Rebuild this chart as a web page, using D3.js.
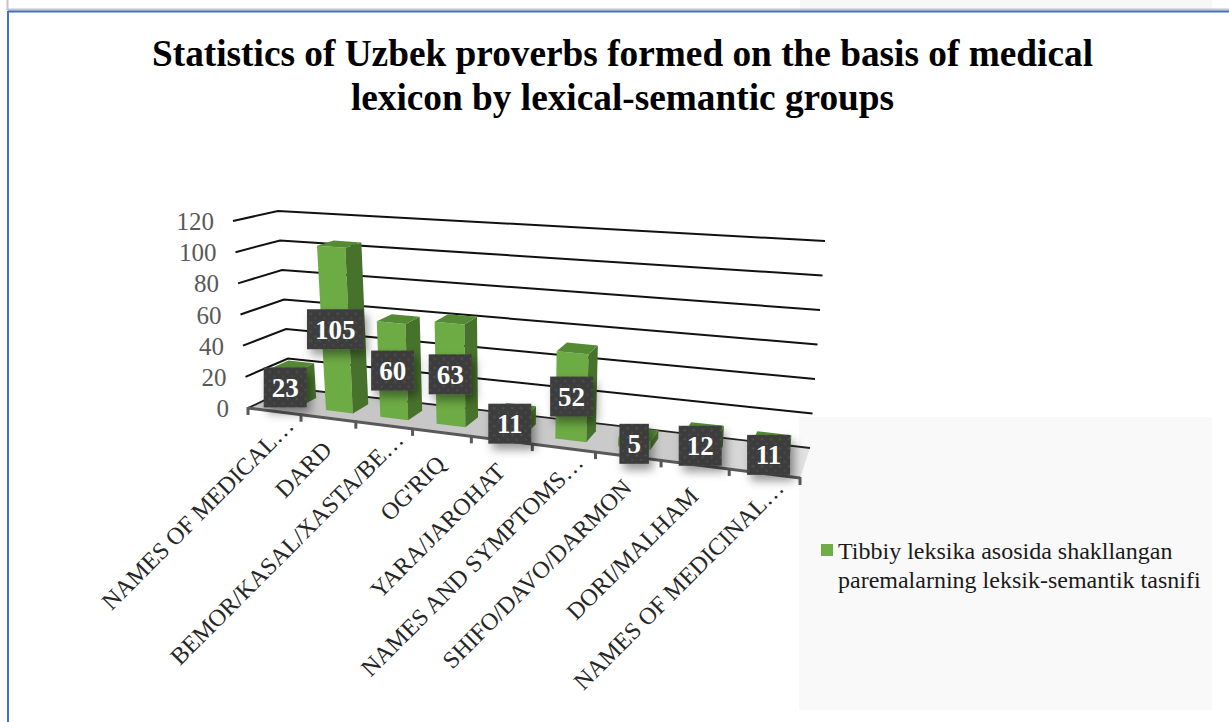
<!DOCTYPE html>
<html><head><meta charset="utf-8">
<script src="https://cdn.jsdelivr.net/npm/d3@7/dist/d3.min.js"></script>
<style>html,body{margin:0;padding:0;background:#fff}svg{display:block;font-family:"Liberation Serif","Times New Roman",serif}</style>
</head><body><div id="chart"></div>
<script>
const categories = ["NAMES OF MEDICAL…","DARD","BEMOR/KASAL/XASTA/BE…","OG'RIQ","YARA/JAROHAT","NAMES AND SYMPTOMS…","SHIFO/DAVO/DARMON","DORI/MALHAM","NAMES OF MEDICINAL…"];
const values = [23,105,60,63,11,52,5,12,11];
const valueTicks = [0,20,40,60,80,100,120];
const titleLines = ["Statistics of Uzbek proverbs formed on the basis of medical","lexicon by lexical-semantic groups"];
const legendLines = ["Tibbiy leksika asosida shakllangan","paremalarning leksik-semantik tasnifi"];

const W=1229,H=722;
const svg=d3.select("#chart").append("svg").attr("width",W).attr("height",H);
const defs=svg.append("defs");
const pat=defs.append("pattern").attr("id","dots").attr("width",9).attr("height",9).attr("patternUnits","userSpaceOnUse");
pat.append("rect").attr("width",9).attr("height",9).attr("fill","#3e3e3e");
pat.append("circle").attr("cx",2.5).attr("cy",2.5).attr("r",1).attr("fill","#565656");
pat.append("circle").attr("cx",7).attr("cy",7).attr("r",1).attr("fill","#4e4e4e");
const sh=defs.append("filter").attr("id","shadow").attr("x","-40%").attr("y","-40%").attr("width","190%").attr("height","190%");
sh.append("feDropShadow").attr("dx",4).attr("dy",6).attr("stdDeviation",5).attr("flood-color","#000").attr("flood-opacity",.4);
const fg=defs.append("linearGradient").attr("id","floor").attr("x1",0).attr("x2",1).attr("y1",0).attr("y2",0);
fg.append("stop").attr("offset",0).attr("stop-color","#c4c4c4");
fg.append("stop").attr("offset",.75).attr("stop-color","#cbcbcb");
fg.append("stop").attr("offset",1).attr("stop-color","#e2e2e2");

// page chrome
svg.append("rect").attr("x",800).attr("y",0).attr("width",412).attr("height",9).attr("fill","#f7f7f7");
svg.append("line").attr("x1",7).attr("x2",W).attr("y1",9.5).attr("y2",9.5).attr("stroke","#c4c4c4").attr("stroke-width",2);
svg.append("line").attr("x1",7.5).attr("x2",7.5).attr("y1",0).attr("y2",10).attr("stroke","#c4c4c4").attr("stroke-width",2);
svg.append("line").attr("x1",8).attr("x2",W).attr("y1",11.5).attr("y2",11.5).attr("stroke","#3f70c8").attr("stroke-width",2);
svg.append("line").attr("x1",8).attr("x2",8).attr("y1",11).attr("y2",H).attr("stroke","#3f70c8").attr("stroke-width",2);
svg.append("rect").attr("x",799).attr("y",417).attr("width",413).attr("height",293).attr("fill","#f9f9f9");

// title
svg.append("g").selectAll("text").data(titleLines).join("text")
 .attr("x",622.5).attr("y",(d,i)=>66+i*44).attr("text-anchor","middle")
 .attr("font-size",37.3).attr("font-weight","bold").attr("fill","#000").text(d=>d);

// 3D box projection
const FBL=[248,408],FBR=[800,478],BBL=[290,388],BBR=[810,448],FTL=[233,221],FTR=[819,259],BTL=[278,211],BTR=[825,241];
const lerp=(a,b,t)=>[a[0]+(b[0]-a[0])*t,a[1]+(b[1]-a[1])*t];
const k=1.177, persp=u=>u/(u+k*(1-u));
const xU=d3.scaleBand().domain(categories).range([0,1]).paddingInner(.5).paddingOuter(.25);
const yW=d3.scaleLinear().domain([0,120]).range([0,1]);
const depth=d3.scaleLinear().domain([0,1]).range([.3,.72]);
function P(u,v,w){
  const t=persp(u),fb=lerp(FBL,FBR,t),bb=lerp(BBL,BBR,t),ft=lerp(FTL,FTR,t),bt=lerp(BTL,BTR,t);
  return lerp(lerp(fb,bb,v),lerp(ft,bt,v),w);
}
const poly=d3.line();

// gridlines
const grid=svg.append("g");
grid.selectAll("path").data(valueTicks.filter(d=>d>0)).join("path")
 .attr("d",d=>poly([P(0,0,yW(d)),P(0,1,yW(d)),P(1,1,yW(d))]))
 .attr("fill","none").attr("stroke","#111").attr("stroke-width",2);

// floor
svg.append("path").attr("d",poly([P(0,0,0),P(0,1,0),P(1,1,0),P(1,0,0)])+"Z").attr("fill","url(#floor)");
svg.append("path").attr("d",poly([P(0,0,0),P(0,1,0),P(1,1,0)])).attr("fill","none").attr("stroke","#222").attr("stroke-width",1.8);

// value axis labels
svg.append("g").selectAll("text").data(valueTicks).join("text")
 .attr("x",d=>P(0,0,yW(d))[0]-19).attr("y",d=>P(0,0,yW(d))[1]+9)
 .attr("text-anchor","end").attr("font-size",25).attr("fill","#595959").text(d=>d);

// category axis
const axisG=svg.append("g");
axisG.append("path").attr("d",poly([P(0,0,0),P(1,0,0)])).attr("fill","none").attr("stroke","#595959").attr("stroke-width",3);
axisG.selectAll("line").data(d3.range(categories.length+1)).join("line")
 .attr("x1",i=>P(i/categories.length,0,0)[0]).attr("x2",i=>P(i/categories.length,0,0)[0])
 .attr("y1",i=>P(i/categories.length,0,0)[1]-1).attr("y2",i=>P(i/categories.length,0,0)[1]+7)
 .attr("stroke","#595959").attr("stroke-width",3);
svg.append("g").selectAll("text").data(categories).join("text")
 .attr("transform",d=>{const p=P(xU(d)+xU.bandwidth()/2,0,0),cut=d.endsWith("…");
   return `translate(${p[0]+(cut?21:5)},${p[1]+(cut?16:33)}) rotate(-45)`;})
 .attr("text-anchor","end").attr("font-size",24).attr("fill","#262626").text(d=>d);

// bars
const bars=svg.append("g").selectAll("g").data(categories.map((c,i)=>({c,v:values[i]}))).join("g");
const face=(d,pts)=>poly(pts)+"Z";
bars.append("path").attr("fill","#6dab45").attr("d",d=>{const a=xU(d.c),b=a+xU.bandwidth(),w=yW(d.v),v=depth(0);
  return face(d,[P(a,v,0),P(b,v,0),P(b,v,w),P(a,v,w)]);});
bars.append("path").attr("fill","#47722b").attr("d",d=>{const b=xU(d.c)+xU.bandwidth(),w=yW(d.v);
  return face(d,[P(b,depth(0),0),P(b,depth(1),0),P(b,depth(1),w),P(b,depth(0),w)]);});
bars.append("path").attr("fill","#548a34").attr("d",d=>{const a=xU(d.c),b=a+xU.bandwidth(),w=yW(d.v);
  return face(d,[P(a,depth(0),w),P(b,depth(0),w),P(b,depth(1),w),P(a,depth(1),w)]);});

// data labels
const labels=svg.append("g").selectAll("g").data(categories.map((c,i)=>({c,v:values[i]}))).join("g")
 .attr("transform",d=>{const p=P(xU(d.c)+xU.bandwidth()/2,depth(0),yW(d.v)/2);return `translate(${p[0]},${p[1]})`;});
const halfW=d=>String(d.v).length*6.75+8;
labels.append("rect").attr("x",d=>-halfW(d)).attr("width",d=>2*halfW(d)).attr("y",-20).attr("height",40)
 .attr("fill","url(#dots)").attr("filter","url(#shadow)");
labels.append("text").attr("text-anchor","middle").attr("y",9.5).attr("font-size",27).attr("font-weight","bold").attr("fill","#fff").text(d=>d.v);

// legend
svg.append("rect").attr("x",821).attr("y",544).attr("width",12).attr("height",12).attr("fill","#70ad47");
svg.append("g").selectAll("text").data(legendLines).join("text")
 .attr("x",838).attr("y",(d,i)=>559+i*29).attr("font-size",24).attr("fill","#1a1a1a").text(d=>d);
</script></body></html>
